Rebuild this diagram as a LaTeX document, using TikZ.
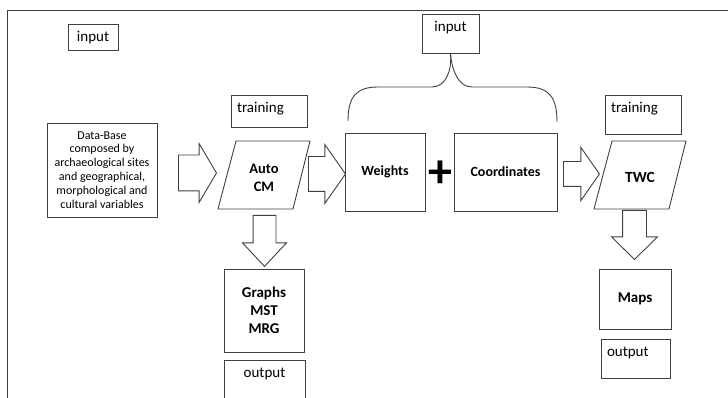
\documentclass[tikz,border=0pt]{standalone}
\usepackage{fontspec}
\setmainfont{Carlito}
\usetikzlibrary{shapes.arrows}

\begin{document}
\begin{tikzpicture}
        [
        x=1pt, y=-1pt,
        line width=0.9pt,
        every node/.style={draw=black!75, align=center, inner sep=0pt},
        mainbox/.style={rectangle, font=\fontsize{15}{18}\selectfont\bfseries},
        tagbox/.style={rectangle, anchor=north, inner xsep=6pt, inner ysep=5pt, text height=12.5pt, font=\fontsize{15}{18}\selectfont},
        slanted/.style={draw=none, minimum width=92pt, minimum height=68pt, font=\fontsize{14.5}{18}\selectfont\bfseries},
        slantline/.style={draw=black!75},
        blockarrow/.style={single arrow, anchor=tail, inner xsep=0pt, single arrow head indent=0pt},
        brace/.style={draw=black!75}
        ]

        \useasboundingbox (0,0) rectangle (728,398);
        \clip (0,0) rectangle (728,398);
        \draw [draw=black!75] (7,10) rectangle (740,420);

        % tags
        \node (in1) [tagbox, text width=38pt, text depth=3.5pt] at (93,24) {input};
        \node (in2) [tagbox, text width=45pt, text depth=16.5pt] at (450.5,14) {input};
        \node (train1) [tagbox, text width=64pt, align=left, text depth=9.5pt] at (269,95) {training};
        \node (train2) [tagbox, text width=64pt, align=left, text depth=16.5pt] at (643,95) {training};
        \node (out1) [tagbox, text width=69pt, text depth=31.5pt] at (264.5,360) {output};
        \node (out2) [tagbox, text width=57pt, align=left, text depth=16.5pt] at (635.5,339) {output};

        % main row
        \node (db) [rectangle, minimum width=110pt, minimum height=94pt, font=\fontsize{12}{13.9}\selectfont] at (102,170)
            {Data-Base\\composed by\\archaeological sites\\and geographical,\\morphological and\\cultural variables};
        \node (autocm) [slanted] at (264,178) {Auto\\CM};
        \draw [slantline] (autocm.center) ++(-46,31) -- ++(18,-68) -- ++(74,0) -- ++(-17,68) -- cycle;
        \node (weights) [mainbox, minimum width=80pt, minimum height=78pt, font=\fontsize{14}{18}\selectfont\bfseries] at (385,172) {Weights};
        \node (plus) [draw=none, font=\fontsize{48}{48}\selectfont\bfseries] at (440,174) {+};
        \node (coords) [mainbox, minimum width=103pt, minimum height=78pt, font=\fontsize{14}{18}\selectfont\bfseries] at (505.5,172) {Coordinates};
        \node (twc) [slanted, font=\fontsize{15.5}{18}\selectfont\bfseries] at (640,177) {TWC};
        \draw [slantline] (twc.center) ++(-46,32) -- ++(18,-68) -- ++(74,0) -- ++(-17,68) -- cycle;

        % results
        \node (graphs) [mainbox, minimum width=80pt, minimum height=83pt] at (264,310.5) {Graphs\\MST\\MRG};
        \node (maps) [mainbox, minimum width=72pt, minimum height=60pt] at (635,299) {Maps};

        % block arrows
        \node (a1) [blockarrow, minimum height=38pt, inner ysep=17.5pt, single arrow head extend=11.5pt, single arrow tip angle=119] at (178,173) {};
        \node (a2) [blockarrow, minimum height=37pt, inner ysep=17pt, single arrow head extend=12pt, single arrow tip angle=110] at (308,174) {};
        \node (a3) [blockarrow, minimum height=36pt, inner ysep=12pt, single arrow head extend=14pt, single arrow tip angle=110] at (563,174) {};
        \node (d1) [blockarrow, shape border rotate=270, minimum height=51pt, inner xsep=11pt, inner ysep=0pt, single arrow head extend=10.5pt, single arrow tip angle=86] at (264.5,215) {};
        \node (d2) [blockarrow, shape border rotate=270, minimum height=49pt, inner xsep=11.5pt, inner ysep=0pt, single arrow head extend=11pt, single arrow tip angle=91] at (634.5,210) {};

        % brace
        \coordinate (brl) at (348,121);
        \coordinate (brr) at (557,122);
        \draw [brace] (brl) .. controls (348,97) and (356,87) .. (378,87) -- (432,87) .. controls (446,87) and (452,70) .. (in2.south);
        \draw [brace] (brr) .. controls (557,97) and (549,87) .. (527,87) -- (472,87) .. controls (458,87) and (452,70) .. (in2.south);

    \end{tikzpicture}
\end{document}
